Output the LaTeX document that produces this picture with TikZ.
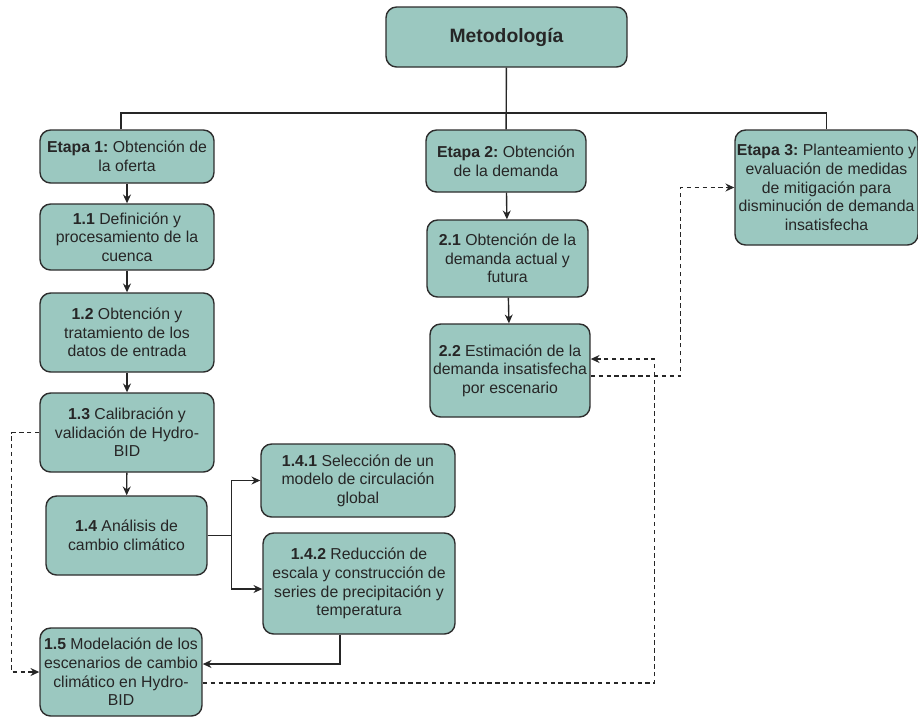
\documentclass[tikz,border=0pt]{standalone}
\usepackage{fontspec}
\setmainfont{Liberation Sans}
\usepackage{tikz}
\usetikzlibrary{shapes,arrows,arrows.meta,positioning}

\definecolor{verdeagua}{RGB}{155,200,192}
\definecolor{borde}{RGB}{45,45,45}

\tikzset{
  caja/.style={draw=borde, fill=verdeagua, rounded corners=6pt, align=center, line width=0.8pt, inner sep=1pt, text=black!85, font=\fontsize{9}{10.6}\selectfont},
  tam/.style 2 args={minimum width=#1, minimum height=#2},
  flecha/.style={-{Stealth[length=5pt,width=4.5pt]}, line width=0.8pt, draw=black!85},
  punteado/.style={-{Stealth[length=5pt,width=4.5pt]}, line width=0.8pt, draw=black!85, dash pattern=on 2.5pt off 2pt},
}

\begin{document}
\frenchspacing
\begin{tikzpicture}[x=0.02cm,y=-0.02cm]
\useasboundingbox (0,0) rectangle (918,718);

\node[caja, tam={4.82cm}{1.2cm}, font=\fontsize{11}{13}\selectfont\bfseries] (met) at (506.5,37) {Metodología};

\node[caja, tam={3.48cm}{1.06cm}] (e1) at (127,156.5) {\textbf{Etapa 1:} Obtención de\\la oferta};
\node[caja, tam={3.48cm}{1.32cm}] (e11) at (127,237) {\textbf{1.1} Definición y\\procesamiento de la\\cuenca};
\node[caja, tam={3.48cm}{1.58cm}] (e12) at (127,332.5) {\textbf{1.2} Obtención y\\tratamiento de los\\datos de entrada};
\node[caja, tam={3.48cm}{1.58cm}] (e13) at (127,432.5) {\textbf{1.3} Calibración y\\validación de Hydro-\\BID};
\node[caja, tam={3.22cm}{1.58cm}] (e14) at (126.5,535.5) {\textbf{1.4} Análisis de\\cambio climático};
\node[caja, tam={3.88cm}{1.46cm}] (e141) at (358,480.5) {\textbf{1.4.1} Selección de un\\modelo de circulación\\global};
\node[caja, tam={3.84cm}{2.02cm}] (e142) at (359,583.5) {\textbf{1.4.2} Reducción de\\escala y construcción de\\series de precipitación y\\temperatura};
\node[caja, tam={3.24cm}{1.76cm}] (e15) at (121,672) {\textbf{1.5} Modelación de los\\escenarios de cambio\\climático en Hydro-\\BID};

\node[caja, tam={3.2cm}{1.24cm}] (e2) at (506,161) {\textbf{Etapa 2:} Obtención\\de la demanda};
\node[caja, tam={3.22cm}{1.54cm}] (e21) at (507.5,258.5) {\textbf{2.1} Obtención de la\\demanda actual y\\futura};
\node[caja, tam={3.2cm}{1.86cm}] (e22) at (510,370.5) {\textbf{2.2} Estimación de la\\demanda insatisfecha\\por escenario};

\node[caja, tam={3.66cm}{2.3cm}] (e3) at (826.5,187.5) {\textbf{Etapa 3:} Planteamiento y\\evaluación de medidas\\de mitigación para\\disminución de demanda\\insatisfecha};

\coordinate (bus) at (506,113);
\draw[line width=0.8pt, black!85] (met) -- (e2);
\draw[line width=0.8pt, black!85] ([xshift=-0.12cm]e1.north) |- (bus) -| (e3.north);

\draw[flecha] (e1) -- (e11);
\draw[flecha] (e11) -- (e12);
\draw[flecha] (e12) -- (e13);
\draw[flecha] (e13) -- (e14);
\draw[flecha] (e14.east) -- ++(24,0) |- (e141.west);
\draw[flecha] (e14.east) -- ++(24,0) |- ([yshift=-0.11cm]e142.west);
\draw[flecha] ([xshift=-0.38cm]e142.south) |- ([yshift=0.16cm]e15.east);

\draw[flecha] (e2) -- (e21);
\draw[flecha] (e21) -- (e22);

\draw[punteado] (e13.west) -- ++(-28,0) |- (e15.west);
\draw[punteado] ([yshift=-0.22cm]e15.east) -- ++(452,0) |- ([yshift=0.23cm]e22.east);
\draw[punteado] ([yshift=-0.11cm]e22.east) -- ++(90,0) |- (e3.west);
\end{tikzpicture}
\end{document}
